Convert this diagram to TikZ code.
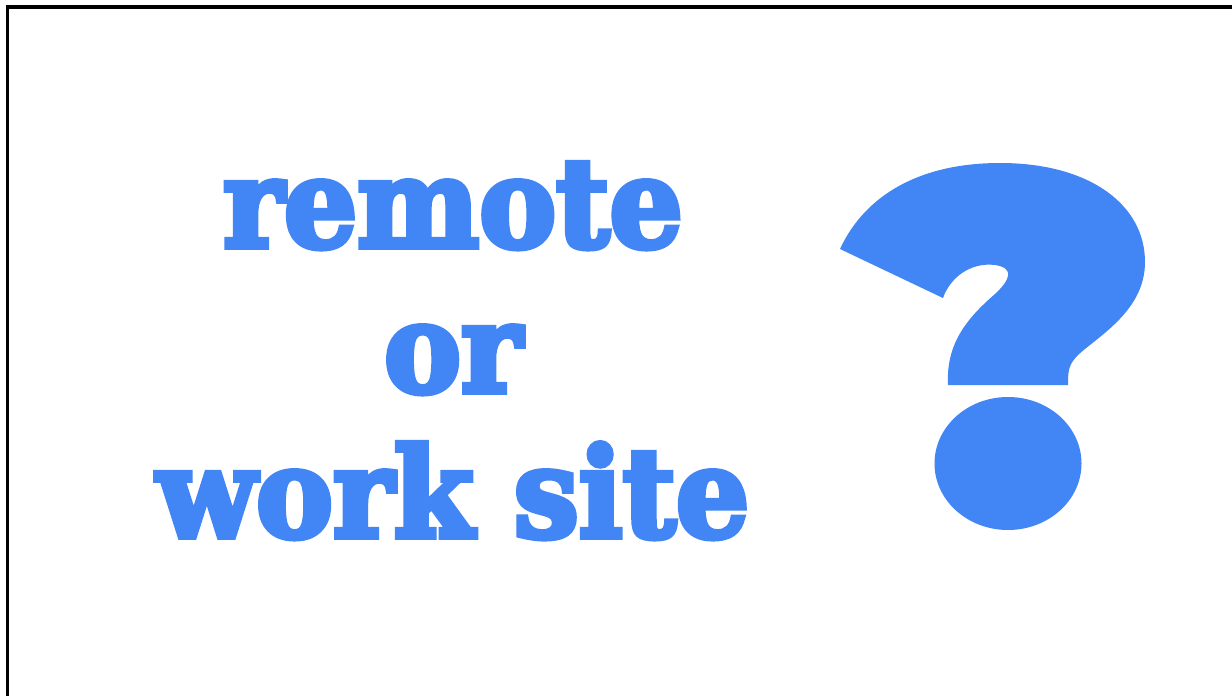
\documentclass[tikz,border=0pt]{standalone}
\usepackage{fontspec}
\newfontfamily\slabfont[FakeBold=4.5,FakeStretch=0.93]{DejaVu Serif Bold}
\definecolor{qblue}{HTML}{4285F4}
\tikzset{
  bigword/.style={text=qblue, anchor=base, inner sep=0pt, font=\slabfont\fontsize{124}{124}\selectfont},
  frameline/.style={line width=3.2pt, draw=black},
  qfill/.style={fill=qblue, draw=none}
}
\begin{document}
\begin{tikzpicture}[x=1pt,y=-1pt]
\useasboundingbox (0,0) rectangle (1232,696);
\fill[white] (0,0) rectangle (1232,696);
\draw[frameline] (7.5,696) -- (7.5,7) -- (1232,7);
\node[bigword] (t1) at (453,247) {remote};
\node[bigword] (t2) at (453,392) {or};
\node[bigword] (t3) at (453,537) {work site};
\fill[qfill] (840,249) .. controls (865,195) and (920,163) .. (1000,163)
  .. controls (1090,163) and (1145,205) .. (1145,262)
  .. controls (1145,310) and (1100,335) .. (1078,355)
  .. controls (1068,365) and (1068,372) .. (1068,385)
  -- (948,385)
  .. controls (946,345) and (965,320) .. (995,294)
  .. controls (1010,280) and (1015,268) .. (995,265)
  .. controls (970,262) and (950,278) .. (943,298)
  -- cycle;
\fill[qfill] (1008,463.5) ellipse [x radius=73.5, y radius=66.5];
\end{tikzpicture}
\end{document}
